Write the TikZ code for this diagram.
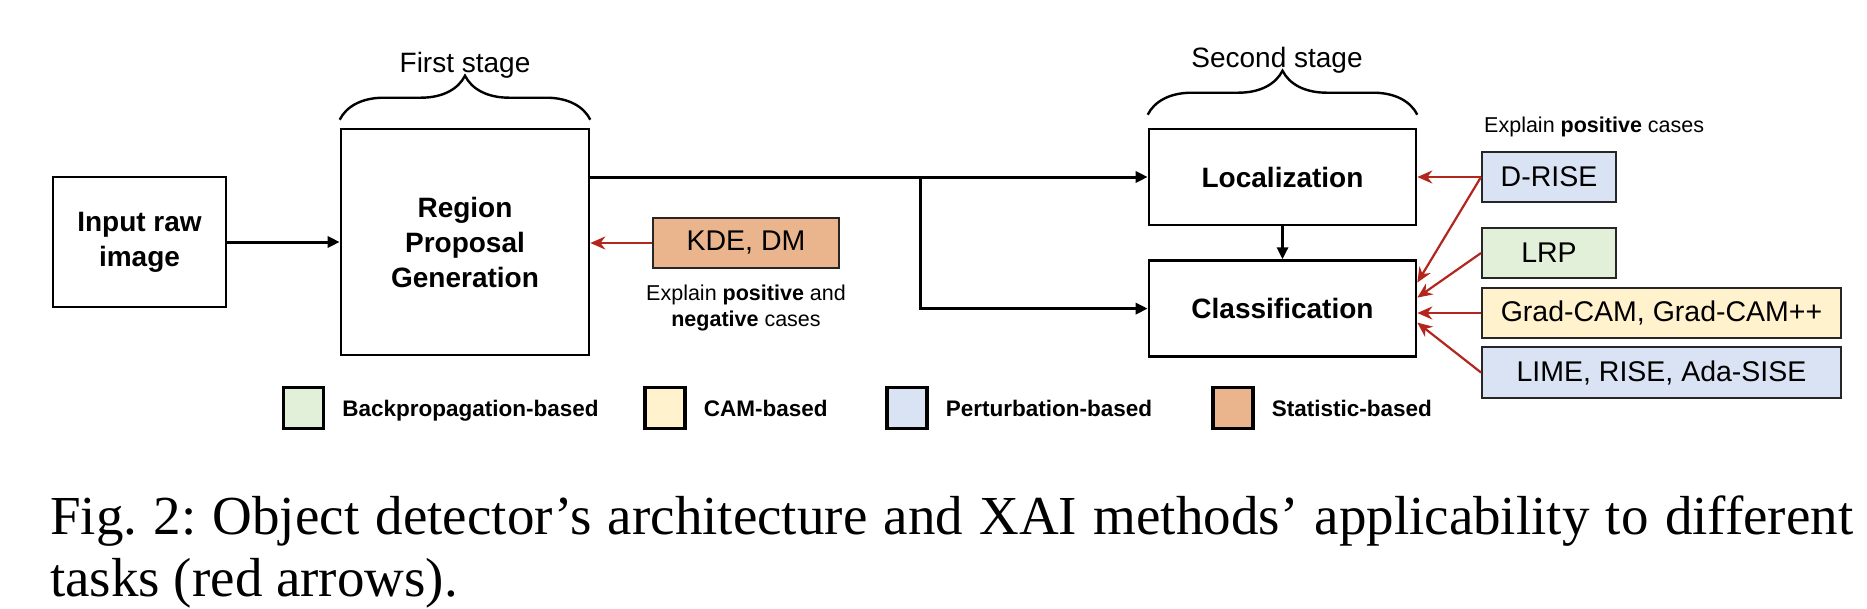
\documentclass[tikz,border=0pt]{standalone}
\usepackage{fontspec}
\setmainfont{Liberation Serif}
\setsansfont{Liberation Sans}
\usepackage{xcolor}
\definecolor{Green}{HTML}{E2EFD9}
\definecolor{Cream}{HTML}{FFF2CC}
\definecolor{Blue}{HTML}{DAE3F3}
\definecolor{Tan}{HTML}{EAB48C}
\definecolor{Red}{HTML}{B3261E}
\usetikzlibrary{arrows.meta,positioning,calc,decorations.pathreplacing}

\begin{document}
\frenchspacing
\begin{tikzpicture}[x=1pt,y=-1pt,
  font=\sffamily,
  stage/.style={draw=black,line width=2.6pt,fill=white,align=center,inner sep=0pt,
    font=\sffamily\bfseries\fontsize{28}{35}\selectfont},
  method/.style={draw=black!85,line width=2pt,minimum height=50pt,inner sep=0pt,
    font=\sffamily\fontsize{28.5}{34}\selectfont},
  legbox/.style={draw=black,line width=3.2pt,minimum width=40pt,minimum height=41pt,inner sep=0pt},
  legtext/.style={font=\sffamily\bfseries\fontsize{22.5}{26}\selectfont,inner sep=0pt,anchor=base west},
  note/.style={font=\sffamily\fontsize{21.5}{26}\selectfont,inner sep=0pt,align=center},
  stagetext/.style={font=\sffamily\fontsize{28}{34}\selectfont,inner sep=0pt,anchor=base},
  brace/.style={decorate,decoration={brace,amplitude=44pt},line width=2.4pt},
  arrow/.style={-{Triangle[length=12pt,width=11pt]},line width=3pt},
  redarrow/.style={-{Stealth[length=15pt,width=13pt]},line width=2.2pt,draw=Red}
]
\useasboundingbox (0,0) rectangle (1867,608);

% first stage
\node[stage,minimum width=173pt,minimum height=130pt] (input) at (139.5,242) {Input raw\\image};
\node[stage,minimum width=248pt,minimum height=226pt] (rpg) at (465,242) {Region\\Proposal\\Generation};
\node[method,fill=Tan,minimum width=186pt] (kde) at (746,243) {KDE, DM};
\node[note,below=16pt of kde] (kdenote) {Explain \textbf{positive} and\\\textbf{negative} cases};

% second stage
\node[stage,minimum width=267pt,minimum height=96pt] (loc) at (1282.5,177) {Localization};
\node[stage,minimum width=267pt,minimum height=96pt,below=33pt of loc] (cls) {Classification};

% methods
\node[note,anchor=base west] (posnote) at (1484,132) {Explain \textbf{positive} cases};
\node[method,fill=Blue,minimum width=134pt] (drise) at (1549,177) {D-RISE};
\node[method,fill=Green,minimum width=134pt,below=24pt of drise] (lrp) {LRP};
\node[method,fill=Cream,minimum width=359pt,below right=8pt and 0pt of lrp.south west] (gcam) {Grad-CAM, Grad-CAM++};
\node[method,fill=Blue,minimum width=359pt,minimum height=51pt,below=7pt of gcam] (lime) {LIME, RISE, Ada-SISE};

% braces
\draw[brace] ($(rpg.north west)+(0,-8)$) -- ($(rpg.north east)+(0,-8)$);
\node[stagetext] (first) at (465,72) {First stage};
\draw[brace] ($(loc.north west)+(0,-13)$) -- ($(loc.north east)+(0,-13)$);
\node[stagetext] (second) at (1277,67) {Second stage};

% data flow
\coordinate (split) at (920,177);
\draw[arrow] (input) -- (rpg);
\draw[arrow] (rpg.east |- loc) -- (loc);
\draw[arrow] (split) |- (cls);
\draw[arrow] (loc) -- (cls);

% explanation methods
\draw[redarrow] (kde.west) -- (kde.west -| rpg.east);
\draw[redarrow] (drise) -- (loc);
\draw[redarrow] (drise.west) -- ($(cls.east)+(0,-26)$);
\draw[redarrow] (lrp.west) -- ($(cls.east)+(0,-11)$);
\draw[redarrow] (gcam.west) -- (gcam.west -| cls.east);
\draw[redarrow] (lime.west) -- ($(cls.east)+(0,14)$);

% legend
\node[legbox,fill=Green] (lgback) at (303.5,408) {};
\node[legtext] (ltback) at ($(lgback.east)+(17,8)$) {Backpropagation-based};
\node[legbox,fill=Cream] (lgcam) at (665,408) {};
\node[legtext] (ltcam) at ($(lgcam.east)+(17,8)$) {CAM-based};
\node[legbox,fill=Blue] (lgpert) at (907,408) {};
\node[legtext] (ltpert) at ($(lgpert.east)+(17,8)$) {Perturbation-based};
\node[legbox,fill=Tan] (lgstat) at (1233,408) {};
\node[legtext] (ltstat) at ($(lgstat.east)+(17,8)$) {Statistic-based};

% caption
\node[anchor=base west,inner sep=0pt,text width=1803pt,align=justify,
  font=\rmfamily\fontsize{55}{62}\selectfont] (caption) at (50,534)
  {Fig. 2: Object detector's architecture and XAI methods' applicability to different\linebreak tasks (red arrows).};
\end{tikzpicture}
\end{document}
